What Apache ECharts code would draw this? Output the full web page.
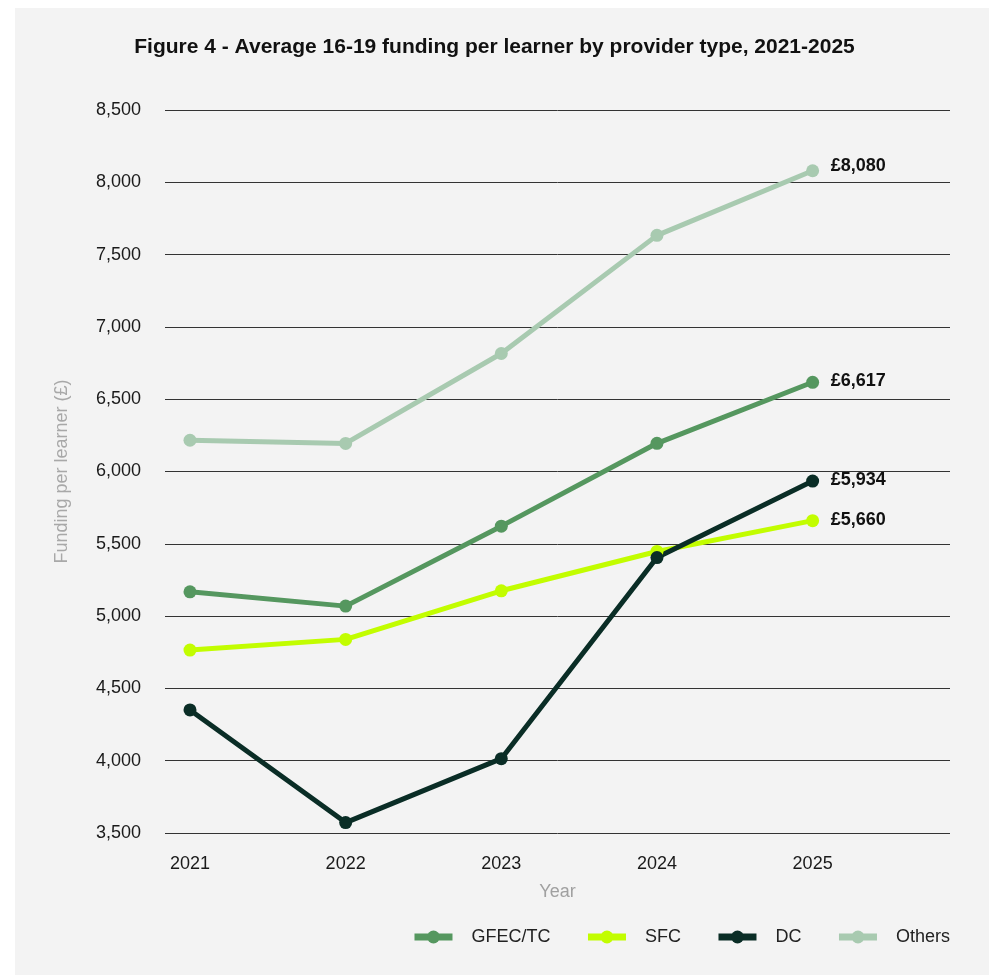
<!DOCTYPE html>
<html>
<head>
<meta charset="utf-8">
<script src="https://cdn.jsdelivr.net/npm/echarts@6/dist/echarts.min.js"></script>
<style>
  html, body { margin: 0; padding: 0; background: #ffffff; }
  #panel { position: absolute; left: 15px; top: 8px; width: 974px; height: 967px; background: #f3f3f3; }
  #chart { position: absolute; left: 0; top: 0; width: 989px; height: 975px; }
</style>
</head>
<body>
<div id="panel"></div>
<div id="chart"></div>
<script>
// Average 16-19 funding per learner (£) by provider type
const years = [2021, 2022, 2023, 2024, 2025];
const seriesNames = ['GFEC/TC', 'SFC', 'DC', 'Others'];
const gfecTc = [5168, 5069, 5622, 6195, 6617];
const sfc = [4765, 4839, 5175, 5447, 5660];
const dc = [4351, 3572, 4014, 5405, 5934];
const others = [6216, 6194, 6816, 7633, 8080];
const yTicks = [3500, 4000, 4500, 5000, 5500, 6000, 6500, 7000, 7500, 8000, 8500];

const colors = {
  'GFEC/TC': '#55975f',
  'SFC': '#c2fd00',
  'DC': '#0a2d26',
  'Others': '#a8cab0'
};
const FONT = '"Liberation Sans", Arial, sans-serif';

function pairs(values) {
  return years.map((y, i) => [y, values[i]]);
}

function lineSeries(name, values) {
  return {
    name: name,
    type: 'line',
    data: pairs(values),
    symbol: 'circle',
    symbolSize: 13,
    lineStyle: { width: 5, color: colors[name] },
    itemStyle: { color: colors[name], borderWidth: 0 },
    endLabel: {
      show: true,
      distance: 18,
      offset: name === 'Others' ? [0, -5] : [0, -1],
      formatter: p => '£' + p.value[1].toLocaleString('en-GB'),
      fontFamily: FONT,
      fontSize: 18,
      fontWeight: 'bold',
      color: '#111111'
    },
    emphasis: { disabled: true },
    z: 3
  };
}

const chart = echarts.init(document.getElementById('chart'), null, { renderer: 'canvas' });
chart.setOption({
  backgroundColor: 'transparent',
  animation: false,
  textStyle: { fontFamily: FONT },
  title: {
    text: 'Figure 4 - Average 16-19 funding per learner by provider type, 2021-2025',
    left: 'center',
    top: 32,
    textStyle: { fontFamily: FONT, fontSize: 21, fontWeight: 'bold', color: '#111111' }
  },
  grid: { left: 165, right: 39, top: 110, bottom: 142 },
  legend: {
    data: seriesNames,
    right: 34,
    top: 923,
    itemWidth: 38,
    itemHeight: 16,
    itemGap: 34,
    lineStyle: { width: 7 },
    textStyle: { fontFamily: FONT, fontSize: 18, color: '#222222', padding: [0, 0, 0, 14] }
  },
  xAxis: {
    type: 'value',
    min: 2020.8395,
    max: 2025.8825,
    name: 'Year',
    nameLocation: 'middle',
    nameGap: 50,
    nameTextStyle: { fontFamily: FONT, fontSize: 18, color: '#a0a0a0' },
    axisLine: { show: false },
    axisTick: { show: false },
    splitLine: { show: false },
    axisLabel: {
      customValues: years,
      margin: 22,
      formatter: v => String(Math.round(v)),
      fontFamily: FONT,
      fontSize: 18,
      color: '#1a1a1a'
    }
  },
  yAxis: {
    type: 'value',
    min: yTicks[0],
    max: yTicks[yTicks.length - 1],
    interval: 500,
    name: 'Funding per learner (£)',
    nameLocation: 'middle',
    nameGap: 94,
    nameRotate: 90,
    nameTextStyle: { fontFamily: FONT, fontSize: 18, color: '#a8a8a8' },
    axisLine: { show: false },
    axisTick: { show: false },
    splitLine: { show: true, lineStyle: { color: '#333333', width: 1 } },
    axisLabel: {
      margin: 24,
      formatter: v => v.toLocaleString('en-GB'),
      fontFamily: FONT,
      fontSize: 18,
      color: '#1a1a1a'
    }
  },
  series: [
    lineSeries('GFEC/TC', gfecTc),
    lineSeries('SFC', sfc),
    lineSeries('DC', dc),
    lineSeries('Others', others)
  ]
});
</script>
</body>
</html>
